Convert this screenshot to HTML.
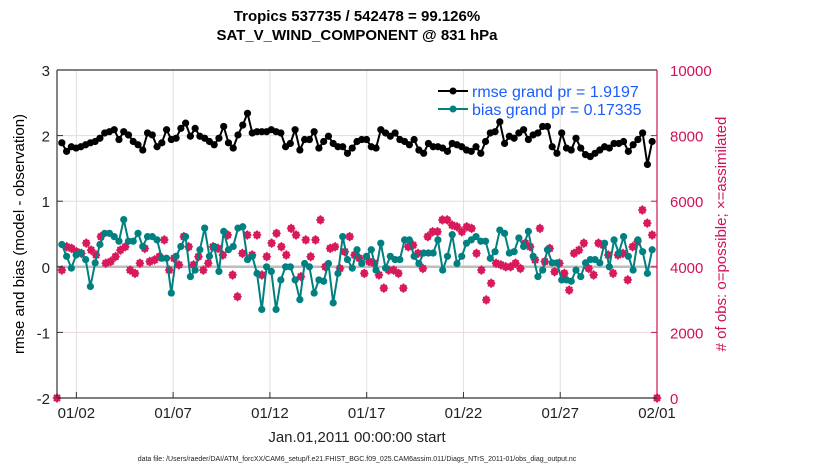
<!DOCTYPE html>
<html><head><meta charset="utf-8"><style>
body{margin:0;background:#fff;}
svg{display:block;font-family:"Liberation Sans",sans-serif;}
</style></head><body>
<svg id="chart" width="830" height="470">
<rect width="830" height="470" fill="#fff"/>
<g id="grid"></g><g id="marks"></g><g id="axes"></g>
<text x="357" y="21" text-anchor="middle" font-weight="bold" font-size="15">Tropics 537735 / 542478 = 99.126%</text>
<text x="357" y="40" text-anchor="middle" font-weight="bold" font-size="15">SAT_V_WIND_COMPONENT @ 831 hPa</text>
<text transform="translate(24,234) rotate(-90)" text-anchor="middle" font-size="15">rmse and bias (model - observation)</text>
<text transform="translate(726,234) rotate(-90)" text-anchor="middle" font-size="15" fill="#d0105a"># of obs: o=possible; ×=assimilated</text>
<text x="357" y="442" text-anchor="middle" font-size="15" fill="#222">Jan.01,2011 00:00:00 start</text>
<text x="357" y="461" text-anchor="middle" font-size="7" fill="#222">data file: /Users/raeder/DAI/ATM_forcXX/CAM6_setup/f.e21.FHIST_BGC.f09_025.CAM6assim.011/Diags_NTrS_2011-01/obs_diag_output.nc</text>
<g>
<line x1="438" y1="91" x2="468" y2="91" stroke="#000" stroke-width="2"/><circle cx="453" cy="91" r="3.5" fill="#000"/>
<text x="472" y="97" font-size="16" fill="#1a5cff">rmse grand pr = 1.9197</text>
<line x1="438" y1="109" x2="468" y2="109" stroke="#008080" stroke-width="2"/><circle cx="453" cy="109" r="3.5" fill="#008080"/>
<text x="472" y="115" font-size="16" fill="#1a5cff">bias grand pr = 0.17335</text>
</g>
</svg>
<script>
const rmse=[1.89,1.76,1.83,1.81,1.83,1.86,1.89,1.91,1.96,2.04,2.06,2.09,1.94,2.06,2.01,1.91,1.86,1.78,2.04,2.01,1.83,1.89,2.09,1.94,1.96,2.11,2.19,1.99,2.11,1.99,1.96,1.91,1.86,1.96,2.14,1.89,1.81,2.01,2.16,2.34,2.04,2.06,2.06,2.06,
2.09,2.06,2.04,1.83,1.88,2.09,1.78,1.94,1.94,2.06,1.81,1.91,1.99,1.88,1.83,1.83,1.73,1.81,1.91,1.94,1.94,1.83,1.81,2.09,2.04,1.99,2.04,1.94,1.91,1.86,1.94,1.78,1.73,1.88,1.83,1.83,1.81,1.76,1.88,1.86,1.83,1.78,
1.76,1.83,1.73,1.91,2.04,2.06,2.21,1.88,1.99,1.96,2.04,2.09,1.94,2.01,2.04,2.14,2.14,1.83,1.73,2.04,1.81,1.78,1.96,1.81,1.71,1.68,1.73,1.78,1.83,1.81,1.88,1.88,1.91,1.76,1.86,1.94,2.04,1.56,1.91];
const bias=[0.34,0.16,-0.02,0.18,0.21,0.11,-0.3,0.06,0.34,0.51,0.51,0.46,0.39,0.72,0.39,0.39,0.51,0.31,0.46,0.46,0.41,0.13,0.13,-0.4,0.16,0.31,0.46,-0.15,-0.05,0.26,0.59,0.16,0.31,-0.07,0.54,0.26,0.31,0.59,0.61,0.11,0.16,-0.1,-0.65,
0.0,-0.07,-0.65,-0.2,0.0,0.0,-0.2,-0.5,0.05,0.0,-0.4,-0.2,-0.22,0.05,-0.55,-0.1,0.46,0.11,-0.02,0.26,0.05,0.16,0.26,-0.05,0.36,-0.02,0.16,0.11,0.11,0.41,0.41,0.16,0.05,0.21,0.21,0.21,0.41,-0.05,0.16,0.49,0.05,0.16,0.36,0.41,
0.46,0.39,0.39,0.13,0.23,0.56,0.51,0.21,0.23,0.44,0.31,0.54,0.16,-0.15,-0.05,0.26,0.06,0.06,-0.2,-0.2,-0.22,-0.05,-0.15,0.06,0.11,0.11,0.06,0.36,0.0,0.41,0.21,0.46,0.16,-0.05,0.41,0.23,-0.1,0.26];
const nobs=[0,3900,4610,4560,4460,4410,4720,4510,4360,4920,4110,4160,4310,4510,4610,3900,3800,4110,4560,4160,4210,4310,4820,3900,4260,4060,4920,4610,4060,4310,3900,4110,4610,4560,4360,4970,3750,3090,4410,4970,
4360,4970,3750,4310,4720,5020,4610,4360,5170,4970,3700,4820,4310,4820,5430,4000,4560,4610,3950,4460,4920,4360,4260,3800,4160,4110,3750,3350,3900,3900,3800,3350,4610,4660,4410,3950,4920,5070,5070,5430,5430,5270,5220,5070,
5220,5170,4410,3900,2990,3500,4110,4060,4000,4000,4110,3950,4720,4610,4210,5170,4160,4560,3850,4110,3800,3290,4410,4510,4720,3950,3750,4720,4660,4360,3800,4360,4410,3600,4610,4770,5730,5330,4970,0];
const xTickLabels=["01/02","01/07","01/12","01/17","01/22","01/27","02/01"];
const xTickDays=[1,6,11,16,21,26,31];
const leftTicks=[3,2,1,0,-1,-2];
const rightTicks=[0,2000,4000,6000,8000,10000];
const L=57,R=657,T=70,B=398;
const xs=d=>L+(d/31)*(R-L);
const yl=v=>B-(v+2)/5*(B-T);
const yr=v=>B-v/10000*(B-T);
const NS="http://www.w3.org/2000/svg";
function mk(tag,parent,attrs){const e=document.createElementNS(NS,tag);for(const k in attrs)e.setAttribute(k,attrs[k]);parent.appendChild(e);return e;}
const grid=document.getElementById('grid'),marks=document.getElementById('marks'),axes=document.getElementById('axes');
xTickDays.forEach((d,i)=>{
 const g=mk('line',grid,{x1:xs(d),x2:xs(d),y1:T,y2:B,stroke:'#e0e0e0','stroke-width':1});
 
 
 mk('line',axes,{x1:xs(d),x2:xs(d),y1:B,y2:B-6,stroke:'#333'});
 const t=mk('text',axes,{x:xs(d),y:B+20,'text-anchor':'middle','font-size':'15',fill:'#222'});
 t.textContent=xTickLabels[i];
 
 
});
rightTicks.forEach(v=>{
 if(v>0&&v<10000){const g=mk('line',grid,{x1:L,x2:R,y1:yr(v),y2:yr(v),stroke:'#f2d6de','stroke-width':1});
 
 }
 mk('line',axes,{x1:R,x2:R-6,y1:yr(v),y2:yr(v),stroke:'#d0105a'});
 const t=mk('text',axes,{x:R+13,y:yr(v)+6,'font-size':'15',fill:'#d0105a'});
 t.textContent=v;
 
 
});
leftTicks.forEach(v=>{
 mk('line',axes,{x1:L,x2:L+6,y1:yl(v),y2:yl(v),stroke:'#333'});
 const t=mk('text',axes,{x:L-7,y:yl(v)+6,'text-anchor':'end','font-size':'15',fill:'#222'});
 t.textContent=v;
 
 
});
const zl=mk('line',grid,{x1:L,x2:R,y1:yl(0),y2:yl(0),stroke:'#bdbdbd','stroke-width':2.5});


mk('line',axes,{x1:L,x2:L,y1:T,y2:B,stroke:'#333','stroke-width':1.2});
mk('line',axes,{x1:L,x2:R,y1:B,y2:B,stroke:'#333','stroke-width':1.2});
mk('line',axes,{x1:L,x2:R,y1:T,y2:T,stroke:'#333','stroke-width':1.2});
mk('line',axes,{x1:R,x2:R,y1:T,y2:B,stroke:'#d0105a','stroke-width':1.2});
function tOf(i,n,a,b){return a+(b-a)*i/(n-1);}
// obs counts
nobs.forEach((v,i)=>{
 const x=xs(tOf(i,nobs.length,0,31)),y=yr(v);
 const p=mk('path',marks,{d:`M${x},${y-5}L${x+4.5},${y}L${x},${y+5}L${x-4.5},${y}Z`,fill:'#d81a5c'});
 
 
 mk('path',marks,{d:`M${x-3},${y-3}L${x+3},${y+3}M${x+3},${y-3}L${x-3},${y+3}`,stroke:'#d81a5c','stroke-width':2});
});
function series(arr,color,name){
 const pts=arr.map((v,i)=>[xs(tOf(i,arr.length,0.25,30.75)),yl(v)]);
 const pl=mk('polyline',marks,{points:pts.map(p=>p.join(',')).join(' '),fill:'none',stroke:color,'stroke-width':2});
 
 
 pts.forEach(p=>{const c=mk('circle',marks,{cx:p[0],cy:p[1],r:3.6,fill:color});
 
 });
}
series(bias,'#008080','bias');
series(rmse,'#000','rmse');
</script>
</body></html>
